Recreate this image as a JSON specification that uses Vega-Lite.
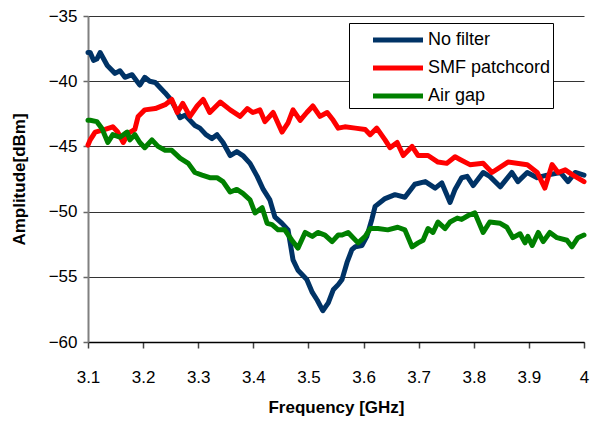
{
  "$schema": "https://vega.github.io/schema/vega-lite/v6.json",
  "width": 496,
  "height": 326,
  "autosize": {"type": "none"},
  "padding": {"left": 88, "top": 16, "right": 8, "bottom": 81},
  "background": "white",
  "config": {"view": {"stroke": null}, "font": "Liberation Sans"},
  "datasets": {
    "d": [
      {"series": "No filter", "f": 3.100, "a": -37.8},
      {"series": "No filter", "f": 3.104, "a": -37.8},
      {"series": "No filter", "f": 3.110, "a": -38.4},
      {"series": "No filter", "f": 3.116, "a": -38.3},
      {"series": "No filter", "f": 3.122, "a": -37.8},
      {"series": "No filter", "f": 3.135, "a": -38.8},
      {"series": "No filter", "f": 3.149, "a": -39.4},
      {"series": "No filter", "f": 3.158, "a": -39.2},
      {"series": "No filter", "f": 3.167, "a": -39.7},
      {"series": "No filter", "f": 3.180, "a": -39.5},
      {"series": "No filter", "f": 3.194, "a": -40.3},
      {"series": "No filter", "f": 3.203, "a": -39.7},
      {"series": "No filter", "f": 3.212, "a": -40.0},
      {"series": "No filter", "f": 3.222, "a": -40.1},
      {"series": "No filter", "f": 3.240, "a": -40.9},
      {"series": "No filter", "f": 3.250, "a": -41.4},
      {"series": "No filter", "f": 3.258, "a": -42.0},
      {"series": "No filter", "f": 3.267, "a": -42.8},
      {"series": "No filter", "f": 3.276, "a": -42.6},
      {"series": "No filter", "f": 3.294, "a": -43.4},
      {"series": "No filter", "f": 3.303, "a": -43.6},
      {"series": "No filter", "f": 3.314, "a": -44.1},
      {"series": "No filter", "f": 3.325, "a": -44.4},
      {"series": "No filter", "f": 3.334, "a": -44.1},
      {"series": "No filter", "f": 3.345, "a": -44.7},
      {"series": "No filter", "f": 3.358, "a": -45.7},
      {"series": "No filter", "f": 3.370, "a": -45.4},
      {"series": "No filter", "f": 3.381, "a": -45.7},
      {"series": "No filter", "f": 3.394, "a": -46.3},
      {"series": "No filter", "f": 3.407, "a": -47.3},
      {"series": "No filter", "f": 3.418, "a": -48.3},
      {"series": "No filter", "f": 3.430, "a": -49.1},
      {"series": "No filter", "f": 3.439, "a": -50.4},
      {"series": "No filter", "f": 3.452, "a": -50.9},
      {"series": "No filter", "f": 3.463, "a": -51.4},
      {"series": "No filter", "f": 3.472, "a": -53.7},
      {"series": "No filter", "f": 3.481, "a": -54.5},
      {"series": "No filter", "f": 3.497, "a": -55.2},
      {"series": "No filter", "f": 3.507, "a": -56.2},
      {"series": "No filter", "f": 3.516, "a": -56.8},
      {"series": "No filter", "f": 3.526, "a": -57.6},
      {"series": "No filter", "f": 3.536, "a": -57.0},
      {"series": "No filter", "f": 3.545, "a": -56.0},
      {"series": "No filter", "f": 3.554, "a": -55.6},
      {"series": "No filter", "f": 3.561, "a": -55.2},
      {"series": "No filter", "f": 3.570, "a": -53.9},
      {"series": "No filter", "f": 3.579, "a": -52.9},
      {"series": "No filter", "f": 3.585, "a": -52.7},
      {"series": "No filter", "f": 3.597, "a": -52.6},
      {"series": "No filter", "f": 3.606, "a": -51.9},
      {"series": "No filter", "f": 3.615, "a": -50.6},
      {"series": "No filter", "f": 3.621, "a": -49.6},
      {"series": "No filter", "f": 3.639, "a": -49.0},
      {"series": "No filter", "f": 3.657, "a": -48.7},
      {"series": "No filter", "f": 3.675, "a": -48.9},
      {"series": "No filter", "f": 3.693, "a": -47.9},
      {"series": "No filter", "f": 3.712, "a": -47.7},
      {"series": "No filter", "f": 3.730, "a": -48.2},
      {"series": "No filter", "f": 3.742, "a": -47.8},
      {"series": "No filter", "f": 3.757, "a": -49.3},
      {"series": "No filter", "f": 3.766, "a": -48.3},
      {"series": "No filter", "f": 3.778, "a": -47.4},
      {"series": "No filter", "f": 3.788, "a": -47.3},
      {"series": "No filter", "f": 3.799, "a": -48.0},
      {"series": "No filter", "f": 3.817, "a": -47.0},
      {"series": "No filter", "f": 3.829, "a": -47.3},
      {"series": "No filter", "f": 3.848, "a": -48.1},
      {"series": "No filter", "f": 3.869, "a": -47.0},
      {"series": "No filter", "f": 3.880, "a": -47.7},
      {"series": "No filter", "f": 3.897, "a": -47.0},
      {"series": "No filter", "f": 3.915, "a": -47.4},
      {"series": "No filter", "f": 3.933, "a": -47.2},
      {"series": "No filter", "f": 3.957, "a": -47.0},
      {"series": "No filter", "f": 3.971, "a": -47.7},
      {"series": "No filter", "f": 3.984, "a": -47.0},
      {"series": "No filter", "f": 4.000, "a": -47.2},

      {"series": "SMF patchcord", "f": 3.100, "a": -44.9},
      {"series": "SMF patchcord", "f": 3.104, "a": -44.5},
      {"series": "SMF patchcord", "f": 3.113, "a": -43.9},
      {"series": "SMF patchcord", "f": 3.131, "a": -43.7},
      {"series": "SMF patchcord", "f": 3.145, "a": -43.5},
      {"series": "SMF patchcord", "f": 3.154, "a": -43.9},
      {"series": "SMF patchcord", "f": 3.164, "a": -44.7},
      {"series": "SMF patchcord", "f": 3.173, "a": -44.0},
      {"series": "SMF patchcord", "f": 3.185, "a": -43.7},
      {"series": "SMF patchcord", "f": 3.191, "a": -42.7},
      {"series": "SMF patchcord", "f": 3.203, "a": -42.2},
      {"series": "SMF patchcord", "f": 3.222, "a": -42.1},
      {"series": "SMF patchcord", "f": 3.240, "a": -41.8},
      {"series": "SMF patchcord", "f": 3.252, "a": -41.4},
      {"series": "SMF patchcord", "f": 3.262, "a": -42.4},
      {"series": "SMF patchcord", "f": 3.272, "a": -41.7},
      {"series": "SMF patchcord", "f": 3.285, "a": -42.7},
      {"series": "SMF patchcord", "f": 3.298, "a": -41.9},
      {"series": "SMF patchcord", "f": 3.309, "a": -41.4},
      {"series": "SMF patchcord", "f": 3.321, "a": -42.4},
      {"series": "SMF patchcord", "f": 3.340, "a": -41.6},
      {"series": "SMF patchcord", "f": 3.358, "a": -42.2},
      {"series": "SMF patchcord", "f": 3.376, "a": -42.7},
      {"series": "SMF patchcord", "f": 3.389, "a": -42.1},
      {"series": "SMF patchcord", "f": 3.399, "a": -42.4},
      {"series": "SMF patchcord", "f": 3.412, "a": -42.2},
      {"series": "SMF patchcord", "f": 3.421, "a": -43.1},
      {"series": "SMF patchcord", "f": 3.436, "a": -42.4},
      {"series": "SMF patchcord", "f": 3.452, "a": -43.9},
      {"series": "SMF patchcord", "f": 3.463, "a": -43.2},
      {"series": "SMF patchcord", "f": 3.472, "a": -42.2},
      {"series": "SMF patchcord", "f": 3.485, "a": -43.0},
      {"series": "SMF patchcord", "f": 3.497, "a": -42.4},
      {"series": "SMF patchcord", "f": 3.508, "a": -41.9},
      {"series": "SMF patchcord", "f": 3.521, "a": -42.7},
      {"series": "SMF patchcord", "f": 3.534, "a": -42.4},
      {"series": "SMF patchcord", "f": 3.545, "a": -43.0},
      {"series": "SMF patchcord", "f": 3.554, "a": -43.6},
      {"series": "SMF patchcord", "f": 3.566, "a": -43.5},
      {"series": "SMF patchcord", "f": 3.585, "a": -43.6},
      {"series": "SMF patchcord", "f": 3.603, "a": -43.7},
      {"series": "SMF patchcord", "f": 3.612, "a": -44.1},
      {"series": "SMF patchcord", "f": 3.624, "a": -43.6},
      {"series": "SMF patchcord", "f": 3.639, "a": -44.5},
      {"series": "SMF patchcord", "f": 3.648, "a": -45.1},
      {"series": "SMF patchcord", "f": 3.661, "a": -44.7},
      {"series": "SMF patchcord", "f": 3.672, "a": -45.7},
      {"series": "SMF patchcord", "f": 3.688, "a": -45.0},
      {"series": "SMF patchcord", "f": 3.699, "a": -45.7},
      {"series": "SMF patchcord", "f": 3.717, "a": -45.7},
      {"series": "SMF patchcord", "f": 3.735, "a": -46.2},
      {"series": "SMF patchcord", "f": 3.751, "a": -46.3},
      {"series": "SMF patchcord", "f": 3.766, "a": -45.8},
      {"series": "SMF patchcord", "f": 3.775, "a": -46.0},
      {"series": "SMF patchcord", "f": 3.793, "a": -46.4},
      {"series": "SMF patchcord", "f": 3.817, "a": -46.3},
      {"series": "SMF patchcord", "f": 3.833, "a": -47.0},
      {"series": "SMF patchcord", "f": 3.862, "a": -46.2},
      {"series": "SMF patchcord", "f": 3.897, "a": -46.4},
      {"series": "SMF patchcord", "f": 3.915, "a": -47.0},
      {"series": "SMF patchcord", "f": 3.929, "a": -48.2},
      {"series": "SMF patchcord", "f": 3.942, "a": -46.4},
      {"series": "SMF patchcord", "f": 3.953, "a": -47.0},
      {"series": "SMF patchcord", "f": 3.966, "a": -46.8},
      {"series": "SMF patchcord", "f": 3.980, "a": -47.2},
      {"series": "SMF patchcord", "f": 4.000, "a": -47.7},

      {"series": "Air gap", "f": 3.100, "a": -43.0},
      {"series": "Air gap", "f": 3.104, "a": -43.0},
      {"series": "Air gap", "f": 3.116, "a": -43.1},
      {"series": "Air gap", "f": 3.125, "a": -43.6},
      {"series": "Air gap", "f": 3.136, "a": -44.7},
      {"series": "Air gap", "f": 3.145, "a": -44.1},
      {"series": "Air gap", "f": 3.158, "a": -44.3},
      {"series": "Air gap", "f": 3.171, "a": -43.9},
      {"series": "Air gap", "f": 3.176, "a": -44.5},
      {"series": "Air gap", "f": 3.185, "a": -44.1},
      {"series": "Air gap", "f": 3.194, "a": -44.7},
      {"series": "Air gap", "f": 3.203, "a": -45.1},
      {"series": "Air gap", "f": 3.216, "a": -44.5},
      {"series": "Air gap", "f": 3.227, "a": -45.0},
      {"series": "Air gap", "f": 3.240, "a": -45.3},
      {"series": "Air gap", "f": 3.252, "a": -45.3},
      {"series": "Air gap", "f": 3.267, "a": -45.9},
      {"series": "Air gap", "f": 3.282, "a": -46.3},
      {"series": "Air gap", "f": 3.294, "a": -47.0},
      {"series": "Air gap", "f": 3.307, "a": -47.2},
      {"series": "Air gap", "f": 3.321, "a": -47.4},
      {"series": "Air gap", "f": 3.334, "a": -47.4},
      {"series": "Air gap", "f": 3.345, "a": -47.7},
      {"series": "Air gap", "f": 3.358, "a": -48.5},
      {"series": "Air gap", "f": 3.370, "a": -48.3},
      {"series": "Air gap", "f": 3.381, "a": -48.6},
      {"series": "Air gap", "f": 3.394, "a": -49.1},
      {"series": "Air gap", "f": 3.403, "a": -50.1},
      {"series": "Air gap", "f": 3.416, "a": -49.7},
      {"series": "Air gap", "f": 3.425, "a": -50.9},
      {"series": "Air gap", "f": 3.434, "a": -51.0},
      {"series": "Air gap", "f": 3.445, "a": -51.4},
      {"series": "Air gap", "f": 3.457, "a": -51.4},
      {"series": "Air gap", "f": 3.470, "a": -52.2},
      {"series": "Air gap", "f": 3.481, "a": -52.8},
      {"series": "Air gap", "f": 3.494, "a": -51.6},
      {"series": "Air gap", "f": 3.507, "a": -51.9},
      {"series": "Air gap", "f": 3.517, "a": -51.6},
      {"series": "Air gap", "f": 3.530, "a": -51.8},
      {"series": "Air gap", "f": 3.543, "a": -52.3},
      {"series": "Air gap", "f": 3.554, "a": -51.8},
      {"series": "Air gap", "f": 3.561, "a": -51.8},
      {"series": "Air gap", "f": 3.572, "a": -51.6},
      {"series": "Air gap", "f": 3.590, "a": -52.4},
      {"series": "Air gap", "f": 3.603, "a": -51.9},
      {"series": "Air gap", "f": 3.612, "a": -51.3},
      {"series": "Air gap", "f": 3.626, "a": -51.3},
      {"series": "Air gap", "f": 3.644, "a": -51.4},
      {"series": "Air gap", "f": 3.662, "a": -51.2},
      {"series": "Air gap", "f": 3.675, "a": -51.4},
      {"series": "Air gap", "f": 3.688, "a": -52.7},
      {"series": "Air gap", "f": 3.699, "a": -52.4},
      {"series": "Air gap", "f": 3.708, "a": -52.2},
      {"series": "Air gap", "f": 3.717, "a": -51.3},
      {"series": "Air gap", "f": 3.726, "a": -51.6},
      {"series": "Air gap", "f": 3.735, "a": -50.8},
      {"series": "Air gap", "f": 3.748, "a": -51.3},
      {"series": "Air gap", "f": 3.757, "a": -50.8},
      {"series": "Air gap", "f": 3.770, "a": -50.5},
      {"series": "Air gap", "f": 3.778, "a": -50.6},
      {"series": "Air gap", "f": 3.790, "a": -50.3},
      {"series": "Air gap", "f": 3.802, "a": -50.1},
      {"series": "Air gap", "f": 3.817, "a": -51.6},
      {"series": "Air gap", "f": 3.829, "a": -50.8},
      {"series": "Air gap", "f": 3.848, "a": -50.9},
      {"series": "Air gap", "f": 3.860, "a": -51.2},
      {"series": "Air gap", "f": 3.871, "a": -52.0},
      {"series": "Air gap", "f": 3.884, "a": -51.7},
      {"series": "Air gap", "f": 3.893, "a": -52.4},
      {"series": "Air gap", "f": 3.898, "a": -51.9},
      {"series": "Air gap", "f": 3.906, "a": -52.6},
      {"series": "Air gap", "f": 3.917, "a": -51.6},
      {"series": "Air gap", "f": 3.926, "a": -52.3},
      {"series": "Air gap", "f": 3.938, "a": -51.6},
      {"series": "Air gap", "f": 3.951, "a": -52.0},
      {"series": "Air gap", "f": 3.969, "a": -52.2},
      {"series": "Air gap", "f": 3.978, "a": -52.7},
      {"series": "Air gap", "f": 3.989, "a": -52.0},
      {"series": "Air gap", "f": 4.000, "a": -51.8}
    ]
  },
  "data": {"name": "d"},
  "mark": {"type": "line", "strokeWidth": 5, "strokeJoin": "round", "strokeCap": "round"},
  "encoding": {
    "x": {
      "field": "f",
      "type": "quantitative",
      "scale": {"domain": [3.1, 4.0], "nice": false, "zero": false},
      "axis": {
        "title": "Frequency [GHz]",
        "titleFont": "Liberation Sans",
        "titleFontSize": 17,
        "titleFontWeight": "bold",
        "titleColor": "black",
        "titlePadding": 14,
        "values": [3.1, 3.2, 3.3, 3.4, 3.5, 3.6, 3.7, 3.8, 3.9, 4.0],
        "format": ".2~f",
        "labelFont": "Liberation Sans",
        "labelFontSize": 17,
        "labelColor": "black",
        "labelPadding": 21,
        "labelFlush": false,
        "tickSize": 6,
        "tickColor": "#444444",
        "tickWidth": 1.5,
        "domainColor": "black",
        "domainWidth": 1.5,
        "grid": false
      }
    },
    "y": {
      "field": "a",
      "type": "quantitative",
      "scale": {"domain": [-60, -35], "nice": false, "zero": false},
      "axis": {
        "title": "Amplitude[dBm]",
        "titleFont": "Liberation Sans",
        "titleFontSize": 17,
        "titleFontWeight": "bold",
        "titleColor": "black",
        "titlePadding": 20,
        "values": [-60, -55, -50, -45, -40, -35],
        "labelFont": "Liberation Sans",
        "labelFontSize": 17,
        "labelColor": "black",
        "labelPadding": 6,
        "tickSize": 5,
        "tickColor": "#666666",
        "tickWidth": 1.5,
        "domainColor": "#808080",
        "domainWidth": 2,
        "grid": true,
        "gridColor": "#333333",
        "gridWidth": 1.2
      }
    },
    "color": {
      "field": "series",
      "type": "nominal",
      "scale": {
        "domain": ["No filter", "SMF patchcord", "Air gap"],
        "range": ["#003366", "#ff0000", "#008000"]
      },
      "legend": {
        "title": null,
        "orient": "none",
        "legendX": 261,
        "legendY": 7,
        "strokeColor": "black",
        "fillColor": "white",
        "padding": 2,
        "cornerRadius": 0,
        "symbolType": "M-2,0H2",
        "symbolSize": 625,
        "symbolStrokeWidth": 5,
        "symbolOffset": 32,
        "labelOffset": 15,
        "labelFont": "Liberation Sans",
        "labelFontSize": 18,
        "labelColor": "black",
        "labelLimit": 300,
        "rowPadding": 3,
        "encoding": {"legend": {"update": {"width": {"value": 250}}}}
      }
    }
  }
}
